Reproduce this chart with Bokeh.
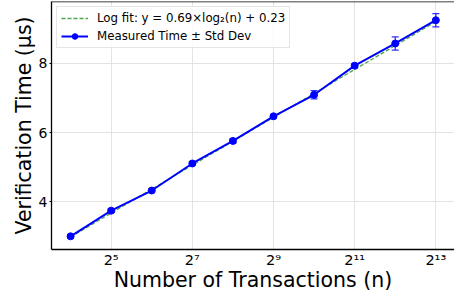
from bokeh.plotting import figure
from bokeh.models import (Range1d, FixedTicker, Whisker, TeeHead, ColumnDataSource,
                          Legend, LegendItem, Span)
from bokeh.embed import file_html
from bokeh.resources import INLINE
import numpy as np

# ---- data ----
n_values = [16, 32, 64, 128, 256, 512, 1024, 2048, 4096, 8192]
mean_time = [3.01, 3.75, 4.33, 5.11, 5.76, 6.47, 7.09, 7.93, 8.57, 9.24]
std_time = [0.04, 0.05, 0.04, 0.04, 0.06, 0.04, 0.12, 0.05, 0.19, 0.19]
fit_slope = 0.69
fit_intercept = 0.23
x_ticks = [32, 128, 512, 2048, 8192]
x_tick_labels = ["2⁵", "2⁷", "2⁹", "2¹¹", "2¹³"]
y_ticks = [4, 6, 8]

FONT = "DejaVu Sans"

n_arr = np.array(n_values, dtype=float)
m_arr = np.array(mean_time)
s_arr = np.array(std_time)
fit_y = fit_slope * np.log2(n_arr) + fit_intercept

src = ColumnDataSource(dict(n=n_arr, m=m_arr, lo=m_arr - s_arr, hi=m_arr + s_arr))
fit_src = ColumnDataSource(dict(n=n_arr, y=fit_y))

y_top = 9.78
p = figure(width=454, height=295, x_axis_type="log",
           x_range=Range1d(2 ** 3.53, 2 ** 13.46), y_range=Range1d(2.63, y_top),
           output_backend="svg", toolbar_location=None,
           min_border_left=51, min_border_right=0, min_border_top=1, min_border_bottom=46)
p.outline_line_color = None
p.background_fill_color = "white"
p.border_fill_color = "white"

# grid
p.xgrid.ticker = FixedTicker(ticks=x_ticks)
p.ygrid.ticker = FixedTicker(ticks=y_ticks)
for g in (p.xgrid, p.ygrid):
    g.grid_line_color = "#e3e3e3"
    g.grid_line_width = 1

# axes
p.xaxis.ticker = FixedTicker(ticks=x_ticks)
p.xaxis.major_label_overrides = {t: l for t, l in zip(x_ticks, x_tick_labels)}
p.yaxis.ticker = FixedTicker(ticks=y_ticks)
for ax in (p.xaxis, p.yaxis):
    ax.axis_line_color = "black"
    ax.axis_line_width = 1.3
    ax.major_label_text_font = FONT
    ax.major_label_text_font_size = "14px"
    ax.major_label_text_color = "black"
    ax.axis_label_text_font = FONT
    ax.axis_label_text_font_size = "20.5px"
    ax.axis_label_text_font_style = "normal"
    ax.axis_label_text_color = "black"
    ax.minor_tick_line_color = None
p.xaxis.major_label_text_font_size = "14.5px"
p.xaxis.major_tick_line_color = None
p.xaxis.major_tick_out = 0
p.xaxis.major_tick_in = 0
p.xaxis.major_label_standoff = 2
p.xaxis.axis_label_standoff = -3
p.yaxis.major_tick_line_color = "black"
p.yaxis.major_tick_out = 2
p.yaxis.major_tick_in = 0
p.yaxis.major_label_standoff = 2
p.yaxis.axis_label_standoff = 0
p.xaxis.axis_label = "Number of Transactions (n)"
p.yaxis.axis_label = "Verification Time (μs)"

# top spine
p.add_layout(Span(location=y_top, dimension="width", line_color="black", line_width=1.3))

# fit line
fit_r = p.line("n", "y", source=fit_src, line_color="green", line_alpha=0.7,
               line_width=1.3, line_dash="4 2")

# measured
line_r = p.line("n", "m", source=src, line_color="blue", line_width=2)
pts_r = p.scatter("n", "m", source=src, marker="circle", size=7,
                  fill_color="blue", line_color="blue")
wh = Whisker(source=src, base="n", lower="lo", upper="hi", dimension="height",
             line_color="blue", line_width=1.3, line_alpha=0.8,
             upper_head=TeeHead(size=7, line_color="blue", line_width=1.3, line_alpha=0.8),
             lower_head=TeeHead(size=7, line_color="blue", line_width=1.3, line_alpha=0.8))
p.add_layout(wh)

# legend-only error bar glyph (no data)
empty = ColumnDataSource(dict(n=[], m=[]))
err_leg = p.scatter("n", "m", source=empty, marker="dash", angle=np.pi / 2, size=13,
                    line_color="blue", line_width=1.3)

legend = Legend(items=[
    LegendItem(label="Log fit: y = 0.69×log₂(n) + 0.23", renderers=[fit_r]),
    LegendItem(label="Measured Time ± Std Dev", renderers=[line_r, err_leg, pts_r]),
], location="top_left")
legend.margin = 5
legend.padding = 4
legend.spacing = 4
legend.glyph_width = 27
legend.glyph_height = 14
legend.label_standoff = 9
legend.label_text_font = FONT
legend.label_text_font_size = "11.8px"
legend.label_text_color = "black"
legend.border_line_color = "#cccccc"
legend.border_line_width = 1
legend.background_fill_color = "white"
legend.background_fill_alpha = 0.8
p.add_layout(legend)

open("out.html", "w").write(file_html(p, INLINE))
